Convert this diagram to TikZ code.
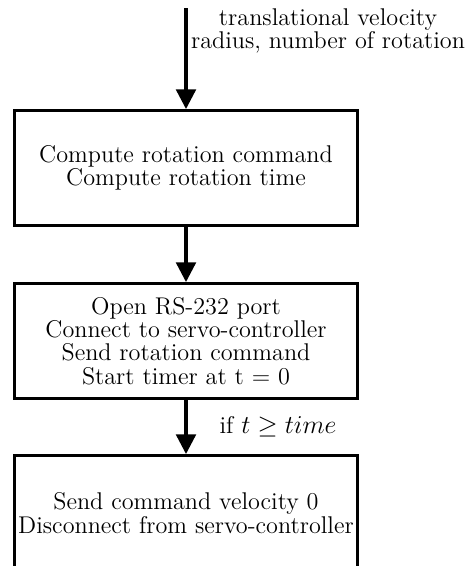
\documentclass[tikz,border=0pt]{standalone}
\usetikzlibrary{arrows.meta}
\tikzset{
  every node/.style={font=\fontsize{13.5}{13}\selectfont},
  stepbox/.style={draw, line width=1.8pt, rectangle, align=center, minimum width=191pt, minimum height=64pt, inner sep=2pt},
  flow/.style={draw, line width=1.8pt, -{Triangle[width=11pt,length=11pt]}}
}
\begin{document}
\begin{tikzpicture}[x=0.558pt,y=-0.558pt]
\useasboundingbox (0,0) rectangle (468,566);
\coordinate (in) at (186,8);
\node[stepbox] (compute) at (186,168) {Compute rotation command\\Compute rotation time};
\node[stepbox] (open) at (186,341) {Open RS-232 port\\Connect to servo-controller\\Send rotation command\\Start timer at t = 0};
\node[stepbox] (stop) at (186,513) {Send command velocity 0\\Disconnect from servo-controller};
\node[align=center, inner sep=0pt] (inputs) at (328,31) {translational velocity\\radius, number of rotation};
\node[inner sep=0pt] (cond) at (278,427) {if $t \geq time$};

\path[flow] (in) -- (compute);
\path[flow] (compute) -- (open);
\path[flow] (open) -- (stop);
\end{tikzpicture}
\end{document}
